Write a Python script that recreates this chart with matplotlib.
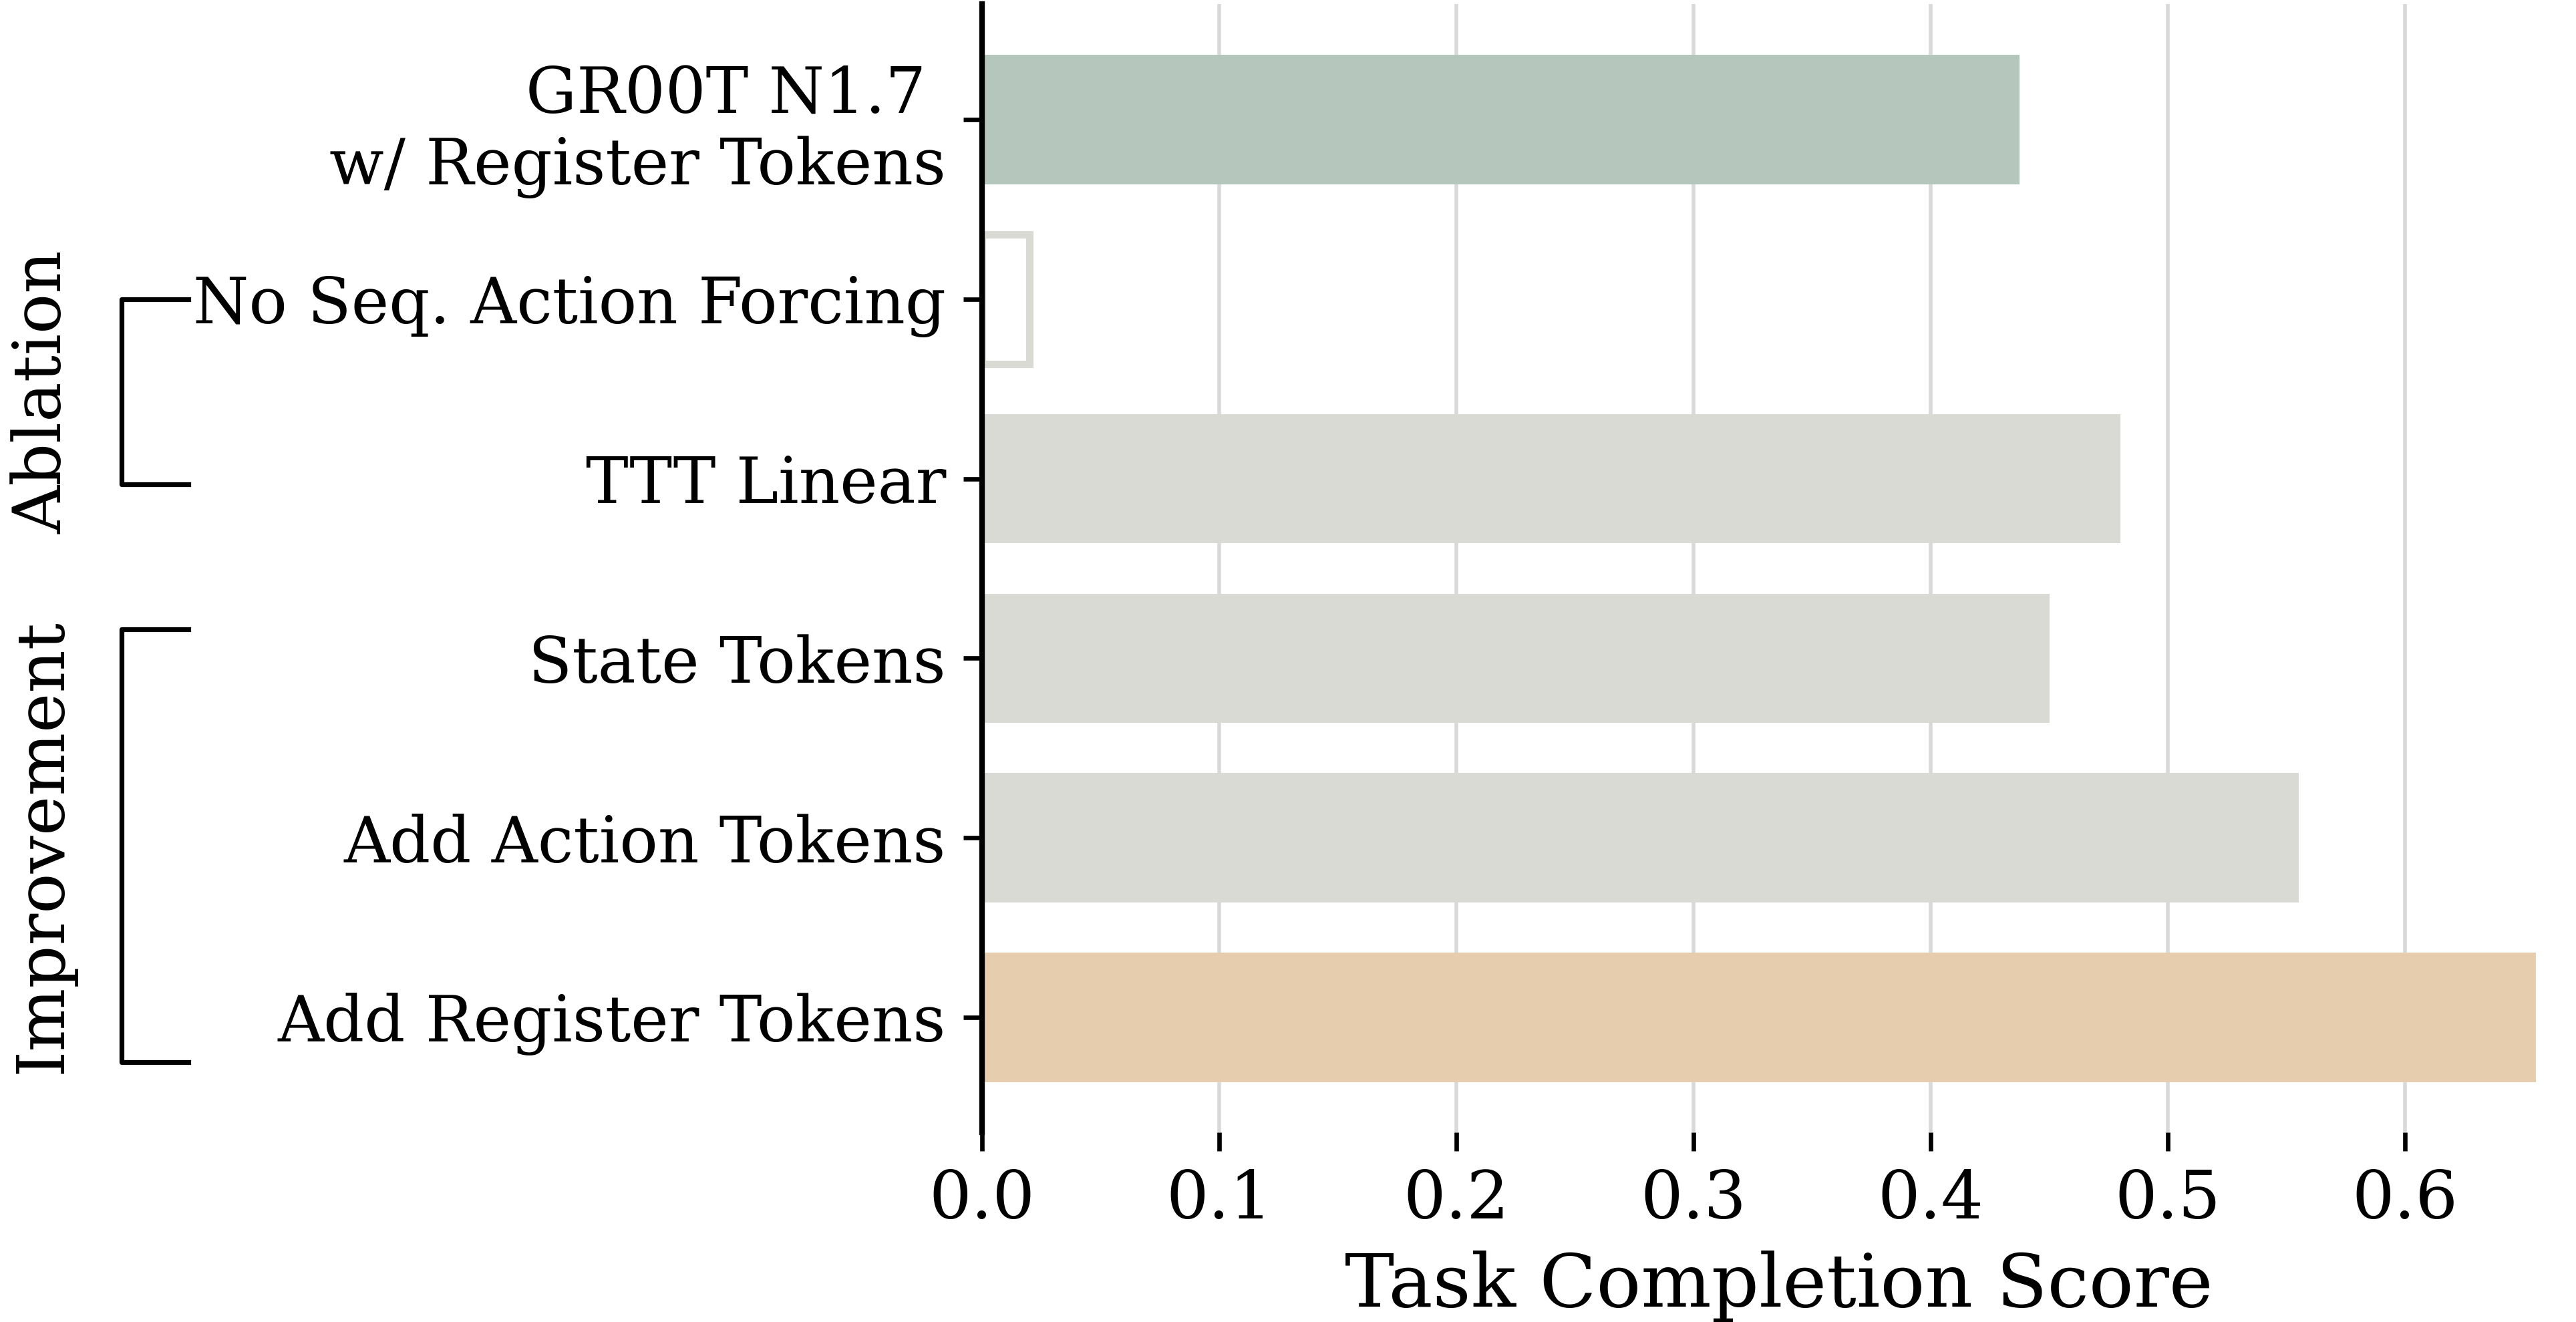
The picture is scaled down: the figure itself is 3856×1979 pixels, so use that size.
import matplotlib
matplotlib.use("Agg")
import matplotlib.pyplot as plt
import matplotlib.transforms as mtransforms
import numpy as np

# bars, top to bottom
LABELS = ["GR00T N1.7 \nw/ Register Tokens", "No Seq. Action Forcing", "TTT Linear",
          "State Tokens", "Add Action Tokens", "Add Register Tokens"]
SCORES = [0.4375, 0.020, 0.480, 0.450, 0.555, 0.655]
FILLS = ["#b5c7bc", "none", "#d9dad4", "#d9dad4", "#d9dad4", "#e5cdad"]
EDGES = ["none", "#d9dad4", "none", "none", "none", "none"]
XTICKS = [0.0, 0.1, 0.2, 0.3, 0.4, 0.5, 0.6]

# group brackets: (name, top, bottom) in bar units
GROUPS = [("Ablation", 1.0, 2.03), ("Improvement", 2.84, 5.25)]

plt.rcParams["font.family"] = "DejaVu Serif"

fig = plt.figure(figsize=(9.64, 4.9475), dpi=400)
ax = fig.add_axes([0.3812, 0.1435, 0.6188, 0.8535])

y = np.arange(len(LABELS))
for i in range(len(LABELS)):
    ax.barh(y[i], SCORES[i], height=0.72, color=FILLS[i], edgecolor=EDGES[i],
            linewidth=2.0 if EDGES[i] != "none" else 0, zorder=2)

ax.set_yticks(y)
ax.set_yticklabels(LABELS, fontsize=17.2)
ax.set_xticks(XTICKS)
ax.set_xticklabels([f"{t:.1f}" for t in XTICKS], fontsize=18)
ax.set_xlim(0, 0.672)
ax.set_ylim(5.64, -0.644)
ax.set_xlabel("Task Completion Score", fontsize=20, labelpad=5)

ax.grid(axis="x", color="#d9d9d9", linewidth=1.0, zorder=0)
ax.set_axisbelow(True)
for s in ["top", "right", "bottom"]:
    ax.spines[s].set_visible(False)
ax.spines["left"].set_linewidth(1.5)
ax.tick_params(axis="both", length=5, width=1.2, pad=4.7)

# group brackets on the left
trans = mtransforms.blended_transform_factory(fig.transFigure, ax.transData)
for name, y0, y1 in GROUPS:
    ax.plot([0.0731, 0.0472, 0.0472, 0.0731], [y0, y0, y1, y1], color="black",
            linewidth=1.3, transform=trans, clip_on=False)
    ax.text(0.0168, (y0 + y1) / 2, name, rotation=90, ha="center", va="center",
            fontsize=18, transform=trans)

fig.savefig("out.png", dpi=400)
